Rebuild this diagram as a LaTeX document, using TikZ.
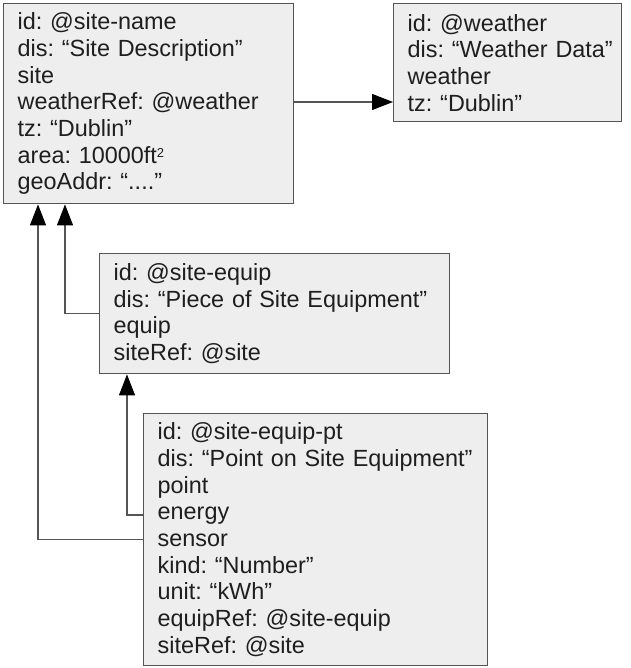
\documentclass[tikz,border=0pt]{standalone}
\usepackage{fontspec}
\setmainfont{Liberation Sans}
\usetikzlibrary{arrows.meta}
\definecolor{boxfill}{HTML}{EEEEEE}
\definecolor{boxline}{HTML}{555555}
\definecolor{txt}{HTML}{1E1E1E}
\frenchspacing
\hbadness=10000 \hfuzz=100pt
\begin{document}
\begin{tikzpicture}[x=1pt,y=-1pt,
  card/.style={draw=boxline, fill=boxfill, line width=1.4pt, rectangle, anchor=north west,
    inner xsep=14pt, inner ysep=0pt, align=left, text=txt,
    font=\fontsize{23.4}{26.7}\selectfont\frenchspacing},
  link/.style={draw=boxline, line width=1.2pt, -{Triangle[length=21pt,width=16pt,fill=black,color=black]}}
]
\useasboundingbox (0,0) rectangle (630,668);
\node[card, minimum width=290pt, minimum height=200pt, text width=262pt] (site) at (3,3)
 {id: @site-name\\dis: “Site Description”\\site\\weatherRef: @weather\\tz: “Dublin”\\area: 10000ft{\fontsize{13}{13}\selectfont\raisebox{6pt}{2}}\\geoAddr: “....”};
\node[card, minimum width=228pt, minimum height=118pt, text width=200pt] (weather) at (393,3)
 {id: @weather\\dis:~“Weather~Data”\\weather\\tz: “Dublin”};
\node[card, minimum width=350pt, minimum height=120pt, text width=322pt] (equip) at (99,253)
 {id: @site-equip\\dis: “Piece of Site Equipment”\\equip\\siteRef: @site};
\node[card, minimum width=344pt, minimum height=252pt, text width=316pt] (pt) at (143,413)
 {id: @site-equip-pt\\dis: “Point on Site Equipment”\\point\\energy\\sensor\\kind: “Number”\\unit: “kWh”\\equipRef: @site-equip\\siteRef: @site};
\coordinate (wIn) at (weather.west |- 0,102);
\coordinate (sOut) at (site.east |- wIn);
\coordinate (siteA) at (site.south -| 38,0);
\coordinate (siteB) at (site.south -| 65,0);
\coordinate (ptB) at (pt.west |- 0,515);
\coordinate (eqIn) at (equip.south -| 127,0);
\draw[link] (sOut) -- (wIn);
\draw[link] (equip.west) -| (siteB);
\draw[link] (ptB) -| (eqIn);
\draw[link] (pt.west) -| (siteA);
\end{tikzpicture}
\end{document}
